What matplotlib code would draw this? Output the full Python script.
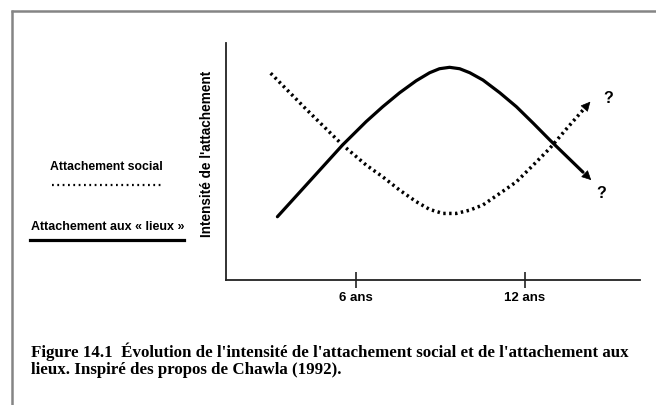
import matplotlib
matplotlib.use("Agg")
import matplotlib.pyplot as plt
import numpy as np

# ---- data (x in years, y = relative intensity 0-100) ----
lieux_x = [3.19, 4.32, 5.51, 6.35, 6.94, 7.54, 8.13, 8.61, 8.96, 9.32, 9.68, 10.04,
           10.51, 11.11, 11.70, 12.30, 12.89, 13.48, 14.07]
lieux_y = [26.4, 41.2, 56.8, 66.7, 73.0, 78.9, 84.0, 87.4, 89.1, 89.7, 89.1, 87.4,
           84.3, 78.9, 73.0, 66.0, 58.9, 52.1, 45.3]
social_x = [2.95, 4.21, 5.51, 6.35, 6.94, 7.54, 8.13, 8.61, 9.08, 9.56, 10.04, 10.51,
            11.11, 11.70, 12.30, 12.89, 13.48, 14.07]
social_y = [87.2, 72.0, 56.8, 48.3, 43.3, 37.7, 32.8, 29.5, 27.8, 27.8, 29.2, 31.4,
            36.3, 41.2, 48.3, 55.4, 63.6, 71.6]
tick_vals = [6, 12]
tick_labels = ["6 ans", "12 ans"]
legend_social = "Attachement social"
legend_lieux = "Attachement aux « lieux »"
ylabel = "Intensité de l'attachement"
caption = ("Figure 14.1  Évolution de l'intensité de l'attachement social et de l'attachement aux\n"
           "lieux. Inspiré des propos de Chawla (1992).")

W, H = 656, 405
fig = plt.figure(figsize=(W / 100, H / 100), dpi=100)
fig.patch.set_facecolor("white")

# outer gray frame (top and left only)
frame = fig.add_axes([0, 0, 1, 1], facecolor="none")
frame.set_xlim(0, W); frame.set_ylim(H, 0); frame.axis("off")
frame.plot([11, W], [10.5, 10.5], color="#858585", lw=1.8, solid_capstyle="butt")
frame.plot([11.5, 11.5], [10, H], color="#858585", lw=1.8, solid_capstyle="butt")

ax = fig.add_axes([226 / W, 1 - 280 / H, (640 - 226) / W, (280 - 43) / H])
ax.set_xlim(1.36, 16.1)
ax.set_ylim(-0.4, 100)
for s in ["top", "right"]:
    ax.spines[s].set_visible(False)
for s in ["left", "bottom"]:
    ax.spines[s].set_linewidth(1.3)
    ax.spines[s].set_color("#222222")
ax.set_yticks([])
ax.set_xticks(tick_vals)
ax.set_xticklabels(tick_labels, fontfamily="Liberation Sans", fontweight="bold", fontsize=9.5)
ax.tick_params(axis="x", direction="inout", length=11, width=1.2, pad=3, color="#222222")

ax.plot(lieux_x, lieux_y, color="black", lw=2.3, solid_capstyle="round", solid_joinstyle="round")
ax.plot(social_x, social_y, color="black", lw=2.5, linestyle=(0, (0.7, 1.0)))

# arrows + question marks continuing last direction of each series
for xs, ys, qdx, qdy in [(lieux_x, lieux_y, 0.35, -5.5), (social_x, social_y, 0.65, 1.5)]:
    dx = xs[-1] - xs[-2]; dy = ys[-1] - ys[-2]
    n = np.hypot(dx, dy * 0.12)
    ux, uy = dx / n, dy / n
    tip = (xs[-1] + ux * 0.5, ys[-1] + uy * 0.5)
    tail = (xs[-1] + ux * 0.3, ys[-1] + uy * 0.3)
    ax.annotate("", xy=tip, xytext=tail,
                arrowprops=dict(arrowstyle="-|>,head_length=0.6,head_width=0.3",
                                color="black", lw=0.5, shrinkA=0, shrinkB=0))
    ax.text(tip[0] + qdx, tip[1] + qdy, "?", fontfamily="Liberation Sans", fontweight="bold",
            fontsize=11.5, ha="center", va="center")

# y label
fig.text(207 / W, 1 - 154 / H, ylabel, rotation=90, ha="center", va="center",
         fontfamily="Liberation Sans", fontweight="bold", fontsize=9.8)

# left legend
frame.text(106, 167, legend_social, ha="center", va="center",
           fontfamily="Liberation Sans", fontweight="bold", fontsize=8.8)
frame.plot([52, 162], [185, 185], color="black", lw=1.6, linestyle=(0, (0.8, 1.6)))
frame.text(108, 227, legend_lieux, ha="center", va="center",
           fontfamily="Liberation Sans", fontweight="bold", fontsize=9)
frame.plot([30, 184], [240, 240], color="black", lw=2.3)

# caption
frame.text(31, 360, caption, ha="left", va="center", fontfamily="Liberation Serif",
           fontweight="bold", fontsize=12.2, linespacing=1.1)

fig.savefig("out.png", dpi=100, facecolor="white")
